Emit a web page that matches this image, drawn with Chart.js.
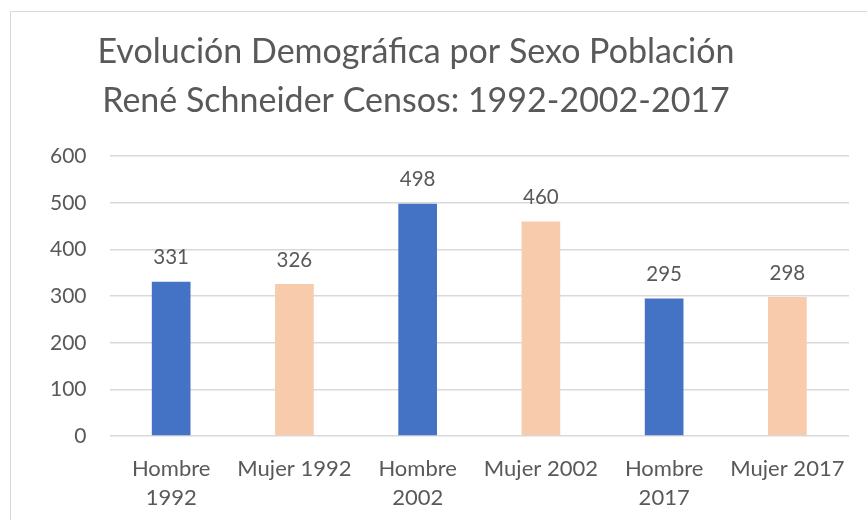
<!DOCTYPE html>
<html>
<head>
<meta charset="utf-8">
<script src="https://cdn.jsdelivr.net/npm/chart.js@4"></script>
<style>
  html, body { margin: 0; padding: 0; background: #fff; overflow: hidden; }
  #box {
    position: absolute; left: 10px; top: 11px;
    width: 856px; height: 518px;
    border-left: 1px solid #d9d9d9; border-top: 1px solid #d9d9d9;
  }
</style>
</head>
<body>
<div id="box"><canvas id="chart"></canvas></div>
<script>
// datos del grafico
const categorias = [['Hombre', '1992'], 'Mujer 1992', ['Hombre', '2002'], 'Mujer 2002', ['Hombre', '2017'], 'Mujer 2017']
const poblacion = [331, 326, 498, 460, 295, 298]
const coloresBarras = ['#4472c4', '#f8cbad', '#4472c4', '#f8cbad', '#4472c4', '#f8cbad']
const tituloLineas = ['Evolución Demográfica por Sexo Población', 'René Schneider Censos: 1992-2002-2017']

const gris = '#595959'

// etiquetas de valor encima de cada barra
const etiquetasValor = {
  id: 'etiquetasValor',
  afterDatasetsDraw(chart) {
    const ctx = chart.ctx
    const meta = chart.getDatasetMeta(0)
    ctx.save()
    ctx.font = '20.5px Lato'
    ctx.fillStyle = gris
    ctx.textAlign = 'center'
    ctx.textBaseline = 'middle'
    meta.data.forEach((bar, i) => {
      ctx.fillText(chart.data.datasets[0].data[i], bar.x, bar.y - 24)
    })
    ctx.restore()
  }
}

// el titulo de Excel no queda centrado sobre el canvas
const moverTitulo = {
  id: 'moverTitulo',
  afterLayout(chart) {
    if (chart.titleBlock) chart.titleBlock.right -= 44
  }
}

new Chart(document.getElementById('chart'), {
  type: 'bar',
  data: {
    labels: categorias,
    datasets: [{
      data: poblacion,
      backgroundColor: coloresBarras,
      borderWidth: 0,
      categoryPercentage: 1,
      barPercentage: 0.314
    }]
  },
  options: {
    responsive: true,
    maintainAspectRatio: false,
    animation: false,
    layout: {
      padding: { left: 16, right: 18, top: 0, bottom: 0 }
    },
    plugins: {
      legend: { display: false },
      tooltip: { enabled: false },
      title: {
        display: true,
        text: tituloLineas,
        color: gris,
        font: { family: 'Lato', size: 34, weight: 'normal', lineHeight: 1.43 },
        padding: { top: 16, bottom: 31 }
      }
    },
    scales: {
      x: {
        grid: { display: false, drawTicks: false },
        border: { display: false },
        ticks: {
          color: gris,
          padding: 18,
          maxRotation: 0,
          autoSkip: false,
          font: { family: 'Lato', size: 22, lineHeight: 1.318 }
        }
      },
      y: {
        min: 0,
        max: 600,
        grid: { color: '#d9d9d9', lineWidth: 1.5, drawTicks: false },
        border: { display: false },
        ticks: {
          stepSize: 100,
          color: gris,
          padding: 23,
          font: { family: 'Lato', size: 21 }
        }
      }
    }
  },
  plugins: [etiquetasValor, moverTitulo]
})
</script>
</body>
</html>
